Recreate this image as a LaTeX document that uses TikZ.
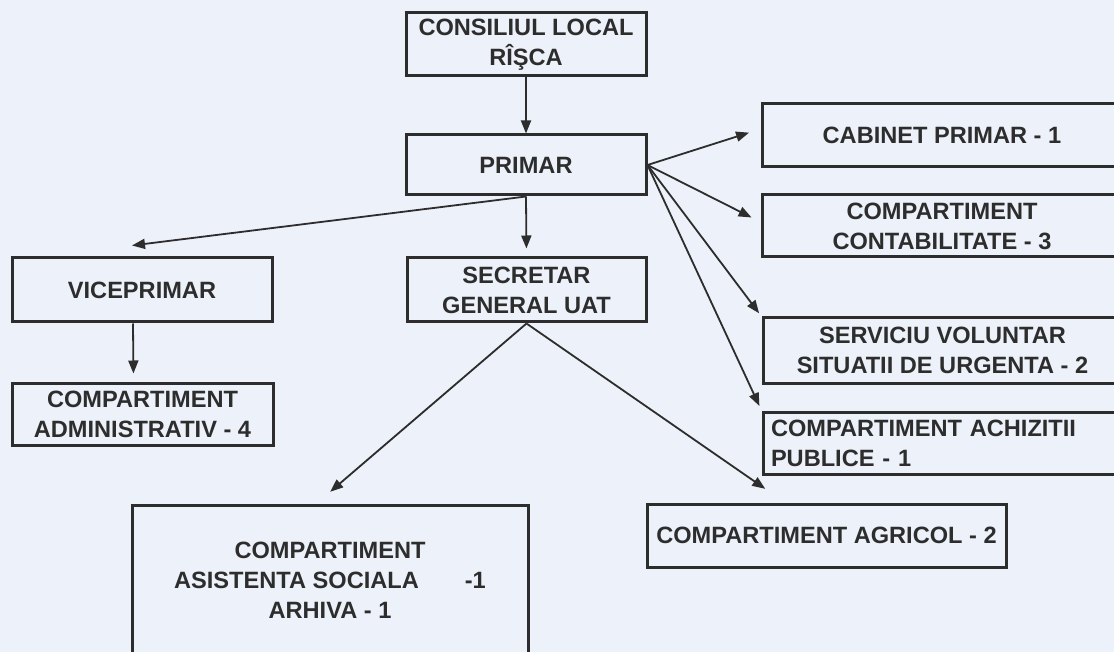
\documentclass[tikz,border=0pt]{standalone}
\usepackage{fontspec}
\setmainfont{Liberation Sans}
\usetikzlibrary{arrows.meta,calc}
\definecolor{bg}{RGB}{237,242,250}
\definecolor{ink}{RGB}{45,45,45}
\tikzset{
  box/.style={draw=ink, line width=3pt, inner sep=0pt, align=center, text=ink,
    font=\fontsize{23.6}{30}\selectfont\bfseries},
  conn/.style={draw=ink, line width=1.8pt, -{Triangle[length=13pt,width=10pt]}}
}
\begin{document}
\begin{tikzpicture}[x=1pt,y=-1pt]
\clip (0,0) rectangle (1114,652);
\fill[bg] (0,0) rectangle (1114,652);

\node[box, minimum width=240pt, minimum height=63pt] (cons) at (526,44.5) {CONSILIUL LOCAL\\RÎŞCA};
\node[box, minimum width=240pt, minimum height=60pt] (primar) at (526,165) {PRIMAR};
\node[box, minimum width=239pt, minimum height=64pt] (secr) at (526.5,290) {SECRETAR\\GENERAL UAT};
\node[box, minimum width=260pt, minimum height=64pt] (vice) at (142,290) {VICEPRIMAR};
\node[box, minimum width=261pt, minimum height=62pt] (admin) at (142.5,414) {COMPARTIMENT\\ADMINISTRATIV - 4};
\node[box, minimum width=360pt, minimum height=63pt] (cab) at (942,135.5) {CABINET PRIMAR - 1};
\node[box, minimum width=360pt, minimum height=62pt] (contab) at (942,226) {COMPARTIMENT\\CONTABILITATE - 3};
\node[box, minimum width=359pt, minimum height=65pt] (serv) at (942.5,350.5) {SERVICIU VOLUNTAR\\SITUATII DE URGENTA - 2};
\node[box, minimum height=62pt, text width=343pt, inner xsep=8pt, align=left] (achiz) at (942.5,443) {COMPARTIMENT ACHIZITII\\PUBLICE - 1};
\node[box, minimum width=359pt, minimum height=63pt] (agr) at (826.5,535.5) {COMPARTIMENT AGRICOL - 2};
\node[box, minimum width=396pt, minimum height=150pt] (asis) at (330,580) {COMPARTIMENT\\ASISTENTA SOCIALA\hspace{46pt}-1\\ARHIVA - 1};

\draw[conn] (cons) -- (primar);
\draw[conn, shorten >=8pt] (primar.south) -- (secr.north);
\draw[conn] (primar.south) -- ($(vice.north)+(-10,-11)$);
\draw[conn, shorten >=12pt] (primar.east) -- ($(cab.west)+(0,-6.5)$);
\draw[conn, shorten >=10pt] (primar.east) -- ($(contab.west)+(0,-4)$);
\draw[conn, shorten >=4pt] (primar.east) -- (serv.north west);
\draw[conn, shorten >=5pt] (primar.east) -- (achiz.north west);
\draw[conn, shorten >=8pt] ($(vice.south)+(-9,0)$) -- ($(admin.north)+(-9,0)$);
\draw[conn, shorten >=18pt] (secr.south) -- ($(asis.north)+(-13.5,0)$);
\draw[conn, shorten >=24pt] (secr.south) -- ($(agr.north)+(-41.5,0)$);
\end{tikzpicture}
\end{document}
